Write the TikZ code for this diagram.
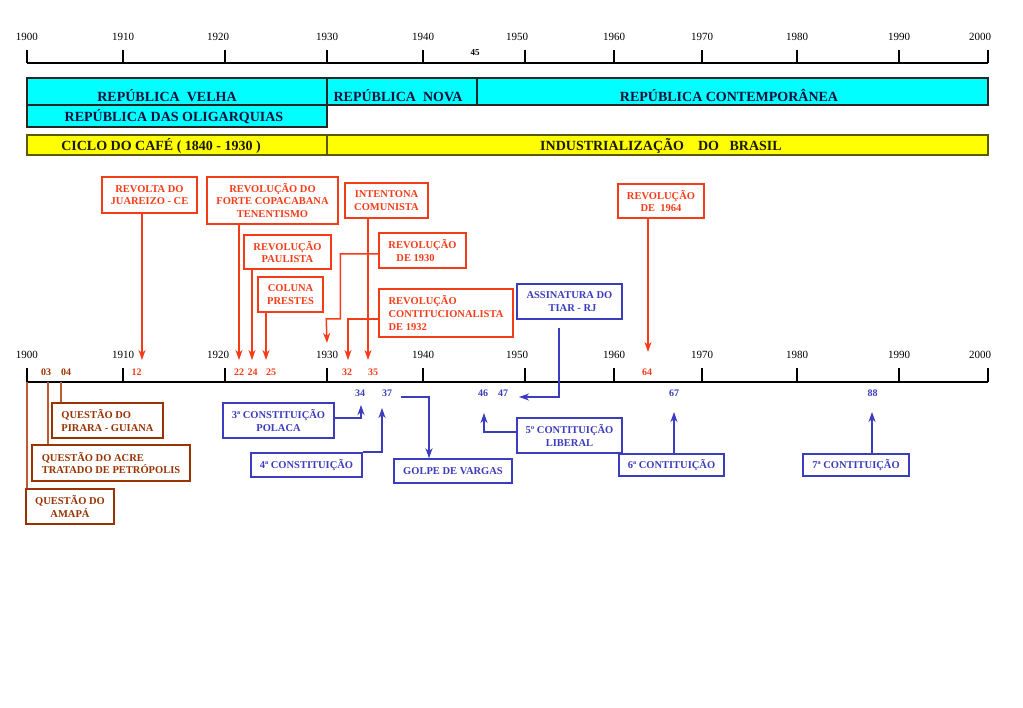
\documentclass[tikz,border=0pt]{standalone}
\usepackage{fontspec}
\setmainfont{Liberation Serif}
\usetikzlibrary{arrows.meta}
\definecolor{myred}{RGB}{245,60,25}
\definecolor{myblue}{RGB}{60,60,190}
\definecolor{mybrown}{RGB}{153,51,0}
\definecolor{mybrownline}{RGB}{190,90,50}
\definecolor{bandtext}{RGB}{16,16,58}
\definecolor{yeltext}{RGB}{26,26,0}
\definecolor{yelborder}{RGB}{90,90,0}
\definecolor{mycyan}{RGB}{0,255,255}
\definecolor{myyellow}{RGB}{255,255,0}
\begin{document}
\begin{tikzpicture}[x=1pt,y=-1pt,
 boxfont/.style={font=\bfseries\fontsize{10.5}{12.6}\selectfont},
 redbox/.style={draw=myred, line width=1.5pt, text=myred, boxfont, align=center, inner sep=0pt},
 bluebox/.style={draw=myblue, line width=1.5pt, text=myblue, boxfont, align=center, inner sep=0pt},
 brownbox/.style={draw=mybrown, line width=1.5pt, text=mybrown, boxfont, align=center, inner sep=0pt},
 redarr/.style={draw=myred, line width=1.5pt, -{Stealth[length=10pt,width=7pt,inset=3pt]}},
 bluearr/.style={draw=myblue, line width=1.5pt, -{Stealth[length=10pt,width=7pt,inset=3pt]}},
 brownline/.style={draw=mybrownline, line width=1.5pt},
 axisline/.style={draw=black, line width=1.5pt},
 yearlbl/.style={font=\fontsize{11}{13}\selectfont, inner sep=0pt},
 rednum/.style={text=myred, font=\bfseries\fontsize{10}{12}\selectfont, inner sep=0pt},
 bluenum/.style={text=myblue, font=\bfseries\fontsize{10}{12}\selectfont, inner sep=0pt},
 brownnum/.style={text=mybrown, font=\bfseries\fontsize{10}{12}\selectfont, inner sep=0pt},
 cyanband/.style={fill=mycyan, draw=black!85, line width=1.3pt},
 yelband/.style={fill=myyellow, draw=yelborder, line width=1.3pt},
 bandlbl/.style={text=bandtext, font=\bfseries\fontsize{14}{16}\selectfont, inner sep=0pt, anchor=base},
 yellbl/.style={text=yeltext, font=\bfseries\fontsize{14}{16}\selectfont, inner sep=0pt, anchor=base}
]
\useasboundingbox[fill=white] (0,0) rectangle (1023,708);

% ---------- top axis ----------
\draw[axisline] (27,63) -- (988,63);
\foreach \x/\lx/\yr in {27/27/1900,123/123/1910,225/218/1920,327/327/1930,423/423/1940,525/517/1950,614/614/1960,702/702/1970,797/797/1980,899/899/1990,988/980/2000}{
  \draw[axisline] (\x,63) -- (\x,50);
  \node[yearlbl] (top\yr) at (\lx,36.7) {\yr};
}
\node[font=\bfseries\fontsize{9}{11}\selectfont, inner sep=0pt] (n45) at (475,53) {45};

% ---------- bands ----------
\draw[cyanband] (27,78) rectangle (327,105);
\draw[cyanband] (327,78) rectangle (477,105);
\draw[cyanband] (477,78) rectangle (988,105);
\draw[cyanband] (27,105) rectangle (327,127);
\draw[yelband] (27,135) rectangle (327,155);
\draw[yelband] (327,135) rectangle (988,155);
\node[bandlbl] (velha) at (167,101.5) {REPÚBLICA\ \ VELHA};
\node[bandlbl] (nova) at (398,101.5) {REPÚBLICA\ \ NOVA};
\node[bandlbl] (contemp) at (729,101.5) {REPÚBLICA CONTEMPORÂNEA};
\node[bandlbl] (oligarq) at (174,121.5) {REPÚBLICA DAS OLIGARQUIAS};
\node[yellbl] (cafe) at (161,150.8) {CICLO DO CAFÉ ( 1840 - 1930 )};
\node[yellbl] (indust) at (661,150.8) {INDUSTRIALIZAÇÃO\ \ \ \ DO\ \ \ BRASIL};

% ---------- bottom axis ----------
\draw[axisline] (27,382) -- (988,382);
\foreach \x/\lx/\yr in {27/27/1900,123/123/1910,225/218/1920,327/327/1930,423/423/1940,525/517/1950,614/614/1960,702/702/1970,797/797/1980,899/899/1990,988/980/2000}{
  \draw[axisline] (\x,382) -- (\x,368);
  \node[yearlbl] (bot\yr) at (\lx,355) {\yr};
}

% numbers on the lower axis
\node[brownnum] (n03) at (46,372) {03};
\node[brownnum] (n04) at (66,372) {04};
\node[rednum] (n12) at (136.5,372) {12};
\node[rednum] (n22) at (239,372) {22};
\node[rednum] (n24) at (252.5,372) {24};
\node[rednum] (n25) at (271,372) {25};
\node[rednum] (n32) at (347,372) {32};
\node[rednum] (n35) at (373,372) {35};
\node[rednum] (n64) at (647,372) {64};
\node[bluenum] (n34) at (360,393) {34};
\node[bluenum] (n37) at (387,393) {37};
\node[bluenum] (n46) at (483,393) {46};
\node[bluenum] (n47) at (503,393) {47};
\node[bluenum] (n67) at (674,393) {67};
\node[bluenum] (n88) at (872.5,393) {88};

% ---------- red boxes ----------
\node[redbox, minimum width=95pt, minimum height=36pt] (juar) at (149.5,195) {REVOLTA DO\\JUAREIZO - CE};
\node[redbox, minimum width=131pt, minimum height=47pt] (forte) at (272.5,200.5) {REVOLUÇÃO DO\\FORTE COPACABANA\\TENENTISMO};
\node[redbox, minimum width=87pt, minimum height=34pt] (paul) at (287.5,252) {REVOLUÇÃO\\PAULISTA};
\node[redbox, minimum width=65pt, minimum height=35pt] (coluna) at (290.5,294.5) {COLUNA\\PRESTES};
\node[redbox, minimum width=83pt, minimum height=35pt] (intent) at (386.5,200.5) {INTENTONA\\COMUNISTA};
\node[redbox, minimum width=87pt, minimum height=35pt, align=left] (rev30) at (422.5,250.5) {REVOLUÇÃO\\\hspace*{8pt}DE 1930};
\node[redbox, minimum width=134pt, minimum height=48pt, align=left] (rev32) at (446,313) {REVOLUÇÃO\\CONTITUCIONALISTA\\DE 1932};
\node[redbox, minimum width=86pt, minimum height=34pt] (rev64) at (661,201) {REVOLUÇÃO\\DE\ \ 1964};

% red arrow tips
\coordinate (t12) at (142,360);
\coordinate (t22) at (239,360);
\coordinate (t24) at (252,360);
\coordinate (t25) at (266,360);
\coordinate (t30) at (327,343);
\coordinate (t32) at (348,360);
\coordinate (t35) at (368,360);
\coordinate (t64) at (648,352);

\draw[redarr] (juar.south -| t12) -- (t12);
\draw[redarr] (forte.south -| t22) -- (t22);
\draw[redarr] (paul.south -| t24) -- (t24);
\draw[redarr] (coluna.south -| t25) -- (t25);
\draw[redarr] (intent.south -| t35) -- (t35);
\draw[redarr] (rev64.south -| t64) -- (t64);
\draw[redarr] ([yshift=-3.5pt]rev30.west) -- ++(-38,0) -- ++(0,65) -- ++(-14,0) -- (t30);
\draw[redarr] ([yshift=-6pt]rev32.west) -| (t32);

% ---------- blue boxes ----------
\node[bluebox, minimum width=105pt, minimum height=35pt] (tiar) at (569.5,301.5) {ASSINATURA DO\\\hspace*{6pt}TIAR - RJ};
\node[bluebox, minimum width=111pt, minimum height=35pt] (polaca) at (278.5,420.5) {3ª CONSTITUIÇÃO\\POLACA};
\node[bluebox, minimum width=111pt, minimum height=24pt] (c4) at (306.5,465) {4ª CONSTITUIÇÃO};
\node[bluebox, minimum width=118pt, minimum height=24pt] (golpe) at (453,471) {GOLPE DE VARGAS};
\node[bluebox, minimum width=105pt, minimum height=35pt] (liberal) at (569.5,435.5) {5º CONTITUIÇÃO\\LIBERAL};
\node[bluebox, minimum width=105pt, minimum height=22pt] (c6) at (671.5,465) {6ª CONTITUIÇÃO};
\node[bluebox, minimum width=106pt, minimum height=22pt] (c7) at (856,465) {7ª CONTITUIÇÃO};

\coordinate (tiarstart) at (559,328);
\coordinate (t47) at (519,397);
\coordinate (t34) at (361,405);
\coordinate (t37) at (382,408);
\coordinate (g37) at (401,397);
\coordinate (t46) at (484,413);
\coordinate (t67) at (674,412);
\coordinate (t88) at (872,412);

\draw[bluearr] (tiarstart) |- (t47);
\draw[bluearr] ([yshift=2.5pt]polaca.east) -| (t34);
\draw[bluearr] (c4.north east) -| (t37);
\draw[bluearr] (g37) -| ([xshift=-24pt]golpe.north);
\draw[bluearr] ([yshift=3.5pt]liberal.west) -| (t46);
\draw[bluearr] ([xshift=2.5pt]c6.north) -- (t67);
\draw[bluearr] ([xshift=16pt]c7.north) -- (t88);

% ---------- brown boxes ----------
\node[brownbox, minimum width=111pt, minimum height=35pt, align=left] (pirara) at (107.5,420.5) {QUESTÃO DO\\PIRARA - GUIANA};
\node[brownbox, minimum width=158pt, minimum height=36pt, align=left] (acre) at (111,463) {QUESTÃO DO ACRE\\TRATADO DE PETRÓPOLIS};
\node[brownbox, minimum width=88pt, minimum height=35pt] (amapa) at (70,506.5) {QUESTÃO DO\\AMAPÁ};

\coordinate (q04) at (61,382);
\coordinate (q03) at (48,382);
\coordinate (q00) at (27,382);
\draw[brownline] (q04) -- (pirara.north -| q04);
\draw[brownline] (q03) -- (acre.north -| q03);
\draw[brownline] (q00) -- (amapa.north -| q00);
\end{tikzpicture}
\end{document}
